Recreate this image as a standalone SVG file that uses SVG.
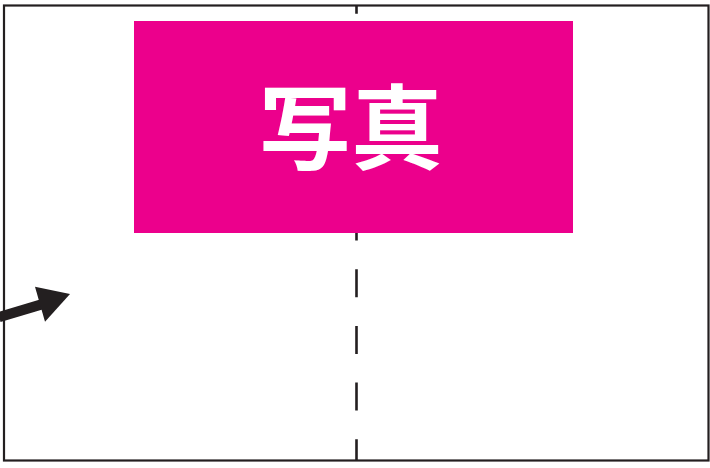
<svg xmlns="http://www.w3.org/2000/svg" width="710" height="468" viewBox="0 0 710 468">
<style>
.frame{fill:none;stroke:#231f20;stroke-width:2.2}
.line{stroke:#231f20;stroke-width:2.6;fill:none}
.title{font-family:"Noto Sans CJK JP","Noto Sans CJK SC",sans-serif;font-weight:bold;font-size:92px;fill:#ffffff}
</style>
<rect width="710" height="468" fill="#ffffff"/>
<g id="frame">
<rect class="frame" x="4" y="5.5" width="704.5" height="455"/>
</g>
<g id="connectors">
<line class="line" x1="356.5" y1="5.5" x2="356.5" y2="460" stroke-dasharray="28 28.7" stroke-dashoffset="-36.9"/>
<path d="M-2,312 L40,299.5 L42.5,309.5 L0.5,322 Z" fill="#231f20"/>
<polygon points="70,294 35,286.7 45,321.7" fill="#231f20"/>
</g>
<g id="photo">
<rect x="134" y="21" width="439" height="212" fill="#ec008c"/>
<text class="title" x="351" y="162" text-anchor="middle">写真</text>
</g>
</svg>
